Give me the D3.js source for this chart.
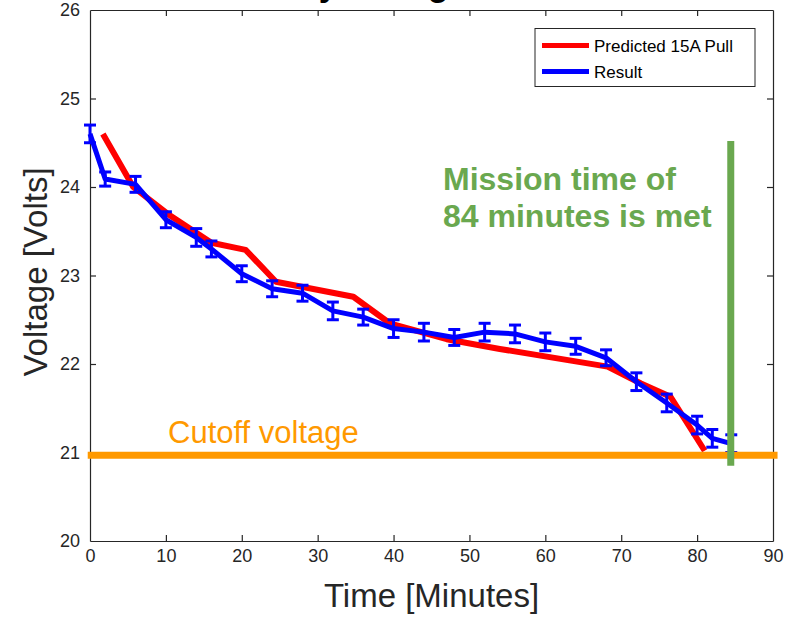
<!DOCTYPE html>
<html>
<head>
<meta charset="utf-8">
<script src="https://cdn.jsdelivr.net/npm/d3@7"></script>
<style>
  body { margin: 0; background: #fff; }
  #chart { width: 800px; height: 617px; }
  text { font-family: "Liberation Sans", Arial, sans-serif; }
</style>
</head>
<body>
<div id="chart"></div>
<script>
// values
var resultTime = [0, 2, 6, 10, 14, 16, 20, 24, 28, 32, 36, 40, 44, 48, 52, 56, 60, 64, 68, 72, 76, 80, 82, 84.5];
var resultVolt = [24.6, 24.09, 24.03, 23.63, 23.43, 23.3, 23.02, 22.85, 22.8, 22.6, 22.53, 22.4, 22.36, 22.3, 22.36, 22.34, 22.25, 22.2, 22.07, 21.8, 21.56, 21.31, 21.16, 21.1];
var resultErr = [0.1, 0.08, 0.09, 0.09, 0.1, 0.09, 0.09, 0.09, 0.09, 0.1, 0.09, 0.1, 0.1, 0.09, 0.1, 0.1, 0.1, 0.09, 0.09, 0.1, 0.1, 0.1, 0.1, 0.1];

var predTime = [1.7, 5.7, 10.5, 16, 20.5, 24.5, 34.7, 39.5, 47, 54, 68.2, 72.6, 76.5, 81];
var predVolt = [24.6, 24.0, 23.68, 23.37, 23.29, 22.93, 22.76, 22.46, 22.28, 22.17, 21.97, 21.78, 21.63, 21.02];

var xTicks = [0, 10, 20, 30, 40, 50, 60, 70, 80, 90];
var yTicks = [20, 21, 22, 23, 24, 25, 26];
var legendLabels = ["Predicted 15A Pull", "Result"];

var cutoffVoltage = 20.97;
var missionTime = 84.5;

var width = 800, height = 617;
var margin = {top: 10, left: 90, right: 27, bottom: 76};
var axisColor = "#262626";

var svg = d3.select("#chart")
    .append("svg")
    .attr("width", width)
    .attr("height", height);

var xScale = d3.scaleLinear()
    .domain([0, 90])
    .range([margin.left, width - margin.right]);

var yScale = d3.scaleLinear()
    .domain([20, 26])
    .range([height - margin.bottom, margin.top]);

// title sits mostly above the picture, only descenders show
svg.append("text")
    .attr("x", (xScale(0) + xScale(90)) / 2)
    .attr("y", -4)
    .attr("text-anchor", "middle")
    .style("font-size", "34px")
    .style("font-weight", "bold")
    .attr("fill", "#000")
    .text("Battery Voltage Over Time");

// axes, ticks inward on all four sides
var bottomAxis = svg.append("g")
    .attr("transform", `translate(0,${yScale(20)})`)
    .call(d3.axisBottom(xScale).tickValues(xTicks).tickSizeInner(-6).tickSizeOuter(0).tickPadding(8).tickFormat(d3.format("d")));
var topAxis = svg.append("g")
    .attr("transform", `translate(0,${yScale(26)})`)
    .call(d3.axisTop(xScale).tickValues(xTicks).tickSizeInner(-6).tickSizeOuter(0).tickFormat(""));
var leftAxis = svg.append("g")
    .attr("transform", `translate(${xScale(0)},0)`)
    .call(d3.axisLeft(yScale).tickValues(yTicks).tickSizeInner(-6).tickSizeOuter(0).tickPadding(10).tickFormat(d3.format("d")));
var rightAxis = svg.append("g")
    .attr("transform", `translate(${xScale(90)},0)`)
    .call(d3.axisRight(yScale).tickValues(yTicks).tickSizeInner(-6).tickSizeOuter(0).tickFormat(""));

[bottomAxis, topAxis, leftAxis, rightAxis].forEach(function(a) {
    a.select(".domain").attr("stroke", axisColor).attr("stroke-width", 1.2);
    a.selectAll(".tick line").attr("stroke", axisColor).attr("stroke-width", 1.2);
    a.selectAll(".tick text")
        .attr("fill", axisColor)
        .style("font-family", "Liberation Sans, Arial, sans-serif")
        .style("font-size", "18px");
});
// the end ticks sit on the box edge, drop them
leftAxis.selectAll(".tick line").filter(function(d) { return d == 20 || d == 26; }).remove();
rightAxis.selectAll(".tick line").filter(function(d) { return d == 20 || d == 26; }).remove();
bottomAxis.selectAll(".tick line").filter(function(d) { return d == 0 || d == 90; }).remove();
topAxis.selectAll(".tick line").filter(function(d) { return d == 0 || d == 90; }).remove();

// axis labels
svg.append("text")
    .attr("x", (xScale(0) + xScale(90)) / 2)
    .attr("y", 607)
    .attr("text-anchor", "middle")
    .attr("fill", axisColor)
    .style("font-size", "33px")
    .text("Time [Minutes]");

svg.append("text")
    .attr("transform", "rotate(-90)")
    .attr("x", -272)
    .attr("y", 47)
    .attr("text-anchor", "middle")
    .attr("fill", axisColor)
    .style("font-size", "33px")
    .text("Voltage [Volts]");

var predData = predTime.map(function(t, i) { return {t: t, v: predVolt[i]}; });
var resultData = resultTime.map(function(t, i) { return {t: t, v: resultVolt[i], e: resultErr[i]}; });

var line = d3.line()
    .x(function(d) { return xScale(d.t); })
    .y(function(d) { return yScale(d.v); });

// predicted line
svg.append("path")
    .datum(predData)
    .attr("d", line)
    .attr("fill", "none")
    .attr("stroke", "#ff0000")
    .attr("stroke-width", 6)
    .attr("stroke-linejoin", "round");

// result with error bars
svg.append("path")
    .datum(resultData)
    .attr("d", line)
    .attr("fill", "none")
    .attr("stroke", "#0000ff")
    .attr("stroke-width", 5)
    .attr("stroke-linejoin", "round");

var err = svg.append("g")
    .attr("stroke", "#0000ff")
    .attr("stroke-width", 3)
    .selectAll("g")
    .data(resultData)
    .enter()
    .append("g");

err.append("line")
    .attr("x1", function(d) { return xScale(d.t); })
    .attr("x2", function(d) { return xScale(d.t); })
    .attr("y1", function(d) { return yScale(d.v + d.e); })
    .attr("y2", function(d) { return yScale(d.v - d.e); });
err.append("line")
    .attr("x1", function(d) { return xScale(d.t) - 6; })
    .attr("x2", function(d) { return xScale(d.t) + 6; })
    .attr("y1", function(d) { return yScale(d.v + d.e); })
    .attr("y2", function(d) { return yScale(d.v + d.e); });
err.append("line")
    .attr("x1", function(d) { return xScale(d.t) - 6; })
    .attr("x2", function(d) { return xScale(d.t) + 6; })
    .attr("y1", function(d) { return yScale(d.v - d.e); })
    .attr("y2", function(d) { return yScale(d.v - d.e); });

// legend
var legend = svg.append("g");
legend.append("rect")
    .attr("x", 535)
    .attr("y", 28.5)
    .attr("width", 220)
    .attr("height", 58)
    .attr("fill", "#fff")
    .attr("stroke", axisColor)
    .attr("stroke-width", 1);
var legendColors = ["#ff0000", "#0000ff"];
legendLabels.forEach(function(label, i) {
    var ly = 45.5 + i * 26;
    legend.append("line")
        .attr("x1", 542).attr("x2", 589)
        .attr("y1", ly).attr("y2", ly)
        .attr("stroke", legendColors[i])
        .attr("stroke-width", 5);
    legend.append("text")
        .attr("x", 594)
        .attr("y", ly + 6)
        .attr("fill", "#000")
        .style("font-size", "17px")
        .text(label);
});

// annotations
svg.append("line")
    .attr("x1", xScale(-0.3))
    .attr("x2", xScale(90.6))
    .attr("y1", yScale(cutoffVoltage))
    .attr("y2", yScale(cutoffVoltage))
    .attr("stroke", "#ff9900")
    .attr("stroke-width", 7);

svg.append("text")
    .attr("x", 168)
    .attr("y", 443)
    .attr("fill", "#ff9900")
    .style("font-size", "31px")
    .text("Cutoff voltage");

svg.append("line")
    .attr("x1", xScale(missionTime) - 0.5)
    .attr("x2", xScale(missionTime) - 0.5)
    .attr("y1", yScale(24.52))
    .attr("y2", yScale(20.85))
    .attr("stroke", "#6aa84f")
    .attr("stroke-width", 7);

svg.append("text")
    .attr("x", 443)
    .attr("y", 190)
    .attr("fill", "#6aa84f")
    .style("font-size", "32px")
    .style("font-weight", "bold")
    .text("Mission time of");
svg.append("text")
    .attr("x", 443)
    .attr("y", 227)
    .attr("fill", "#6aa84f")
    .style("font-size", "32px")
    .style("font-weight", "bold")
    .text("84 minutes is met");
</script>
</body>
</html>
